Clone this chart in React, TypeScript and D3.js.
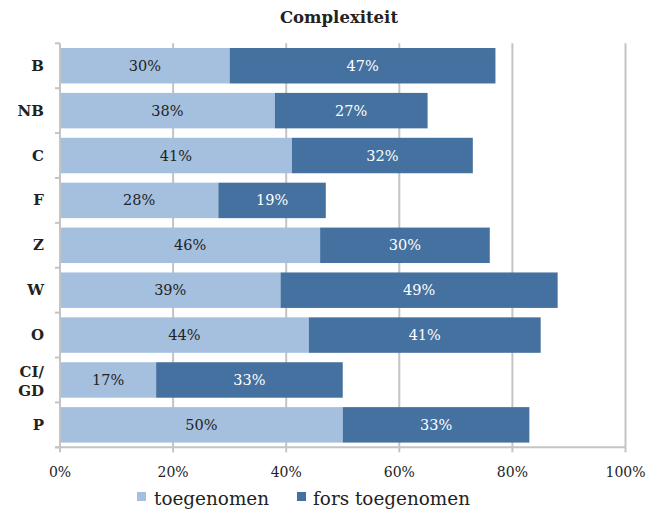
import React from "react";
import * as d3 from "d3";

const categories = ["B", "NB", "C", "F", "Z", "W", "O", "CI/GD", "P"];
const toegenomen = [30, 38, 41, 28, 46, 39, 44, 17, 50];
const forsToegenomen = [47, 27, 32, 19, 30, 49, 41, 33, 33];
const xTicks = [0, 20, 40, 60, 80, 100];
const seriesNames = ["toegenomen", "fors toegenomen"];
const title = "Complexiteit";

const W = 661;
const H = 520;
const LIGHT = "#a5bfdf";
const DARK = "#44719f";
const GRID = "#c4c4c4";
const FONT = "'DejaVu Serif', 'Liberation Serif', serif";

export default function App() {
  const x = d3.scaleLinear().domain([0, 100]).range([60, 625.5]);
  const y = d3
    .scaleBand<string>()
    .domain(categories)
    .range([43.3, 447.3])
    .paddingInner(0.21)
    .paddingOuter(0.105);
  const [y0, y1] = y.range();
  const step = y.step();
  const boundaries = d3.range(categories.length + 1).map((i) => y0 + i * step);
  const bh = y.bandwidth();

  return (
    <svg
      width={W}
      height={H}
      style={{ position: "absolute", left: 0, top: 0, background: "#fff" }}
      fontFamily={FONT}
    >
      <text
        x={339}
        y={23}
        textAnchor="middle"
        fontSize={16.5}
        fontWeight="bold"
        fill="#222"
      >
        {title}
      </text>

      {/* vertical gridlines */}
      {xTicks.slice(1).map((t) => (
        <line
          key={"g" + t}
          x1={x(t)}
          x2={x(t)}
          y1={y0}
          y2={y1}
          stroke={GRID}
          strokeWidth={2}
        />
      ))}

      {/* bars */}
      {categories.map((c, i) => {
        const by = y(c)!;
        const a = toegenomen[i];
        const b = forsToegenomen[i];
        return (
          <g key={c}>
            <rect x={x(0)} y={by} width={x(a) - x(0)} height={bh} fill={LIGHT} />
            <rect x={x(a)} y={by} width={x(a + b) - x(a)} height={bh} fill={DARK} />
            <text
              x={(x(0) + x(a)) / 2}
              y={by + bh / 2 + 5}
              textAnchor="middle"
              fontSize={14.5}
              fill="#222"
            >
              {a}%
            </text>
            <text
              x={(x(a) + x(a + b)) / 2}
              y={by + bh / 2 + 5}
              textAnchor="middle"
              fontSize={14.5}
              fill="#fff"
            >
              {b}%
            </text>
          </g>
        );
      })}

      {/* y axis */}
      <line x1={x(0)} x2={x(0)} y1={y0} y2={y1 + 1} stroke={GRID} strokeWidth={2} />
      {boundaries.map((b, i) => (
        <line key={"yt" + i} x1={x(0) - 5} x2={x(0)} y1={b} y2={b} stroke={GRID} strokeWidth={2} />
      ))}
      {categories.map((c) => {
        const cy = y(c)! + bh / 2;
        if (c.includes("/")) {
          const parts = ["CI/", "GD"];
          return (
            <text key={"l" + c} x={44} textAnchor="end" fontSize={15} fontWeight="bold" fill="#222">
              <tspan x={44} y={cy - 3}>{parts[0]}</tspan>
              <tspan x={44} y={cy + 16}>{parts[1]}</tspan>
            </text>
          );
        }
        return (
          <text key={"l" + c} x={44} y={cy + 5} textAnchor="end" fontSize={15} fontWeight="bold" fill="#222">
            {c}
          </text>
        );
      })}

      {/* x axis */}
      <line x1={x(0) - 5} x2={x(100)} y1={y1} y2={y1} stroke={GRID} strokeWidth={2} />
      {xTicks.map((t) => (
        <line key={"xt" + t} x1={x(t)} x2={x(t)} y1={y1} y2={y1 + 5} stroke={GRID} strokeWidth={2} />
      ))}
      {xTicks.map((t) => (
        <text key={"xl" + t} x={x(t)} y={477} textAnchor="middle" fontSize={14} fill="#222">
          {t}%
        </text>
      ))}

      {/* legend */}
      <rect x={137} y={492} width={9} height={9} fill={LIGHT} />
      <text x={154} y={505} fontSize={18.4} fill="#222">{seriesNames[0]}</text>
      <rect x={297} y={492} width={9} height={9} fill={DARK} />
      <text x={313} y={505} fontSize={18.4} fill="#222">{seriesNames[1]}</text>
    </svg>
  );
}
